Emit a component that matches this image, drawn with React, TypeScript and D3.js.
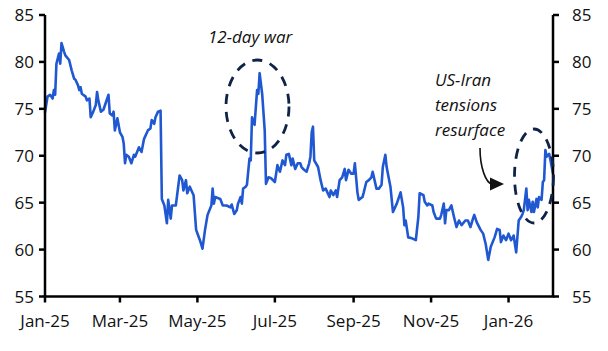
import React from "react";
import * as d3 from "d3";

const dates: string[] = [
  "2025-01-01","2025-01-03","2025-01-05","2025-01-07","2025-01-08","2025-01-09","2025-01-10","2025-01-12","2025-01-13","2025-01-14",
  "2025-01-16","2025-01-17","2025-01-20","2025-01-22","2025-01-24","2025-01-25","2025-01-27","2025-01-28","2025-01-29","2025-01-30",
  "2025-02-02","2025-02-03","2025-02-05","2025-02-06","2025-02-08","2025-02-10","2025-02-11","2025-02-12","2025-02-14","2025-02-16",
  "2025-02-18","2025-02-20","2025-02-21","2025-02-23","2025-02-24","2025-02-25","2025-02-27","2025-03-01","2025-03-03","2025-03-04",
  "2025-03-05","2025-03-06","2025-03-08","2025-03-10","2025-03-12","2025-03-13","2025-03-16","2025-03-18","2025-03-20","2025-03-23",
  "2025-03-25","2025-03-26","2025-03-28","2025-03-29","2025-03-31","2025-04-02","2025-04-03","2025-04-05","2025-04-07","2025-04-08",
  "2025-04-10","2025-04-11","2025-04-14","2025-04-17","2025-04-19","2025-04-20","2025-04-22","2025-04-23","2025-04-25","2025-04-28",
  "2025-04-30","2025-05-03","2025-05-05","2025-05-07","2025-05-09","2025-05-12","2025-05-13","2025-05-14","2025-05-15","2025-05-19",
  "2025-05-21","2025-05-24","2025-05-27","2025-05-28","2025-05-30","2025-06-01","2025-06-02","2025-06-04","2025-06-05","2025-06-06",
  "2025-06-08","2025-06-09","2025-06-11","2025-06-12","2025-06-13","2025-06-14","2025-06-15","2025-06-17","2025-06-18","2025-06-19",
  "2025-06-21","2025-06-23","2025-06-24","2025-06-26","2025-06-28","2025-07-01","2025-07-03","2025-07-04","2025-07-05","2025-07-07",
  "2025-07-09","2025-07-10","2025-07-12","2025-07-14","2025-07-15","2025-07-17","2025-07-19","2025-07-21","2025-07-22","2025-07-24",
  "2025-07-26","2025-07-28","2025-07-29","2025-07-30","2025-07-31","2025-08-01","2025-08-04","2025-08-06","2025-08-08","2025-08-10",
  "2025-08-13","2025-08-14","2025-08-16","2025-08-18","2025-08-19","2025-08-21","2025-08-23","2025-08-25","2025-08-26","2025-08-28",
  "2025-08-30","2025-09-01","2025-09-02","2025-09-04","2025-09-05","2025-09-08","2025-09-09","2025-09-11","2025-09-13","2025-09-15",
  "2025-09-16","2025-09-19","2025-09-21","2025-09-23","2025-09-24","2025-09-26","2025-09-27","2025-09-30","2025-10-02","2025-10-05",
  "2025-10-08","2025-10-10","2025-10-11","2025-10-12","2025-10-14","2025-10-17","2025-10-20","2025-10-22","2025-10-23","2025-10-26",
  "2025-10-27","2025-10-29","2025-10-30","2025-11-02","2025-11-03","2025-11-05","2025-11-08","2025-11-09","2025-11-11","2025-11-12",
  "2025-11-13","2025-11-15","2025-11-17","2025-11-19","2025-11-21","2025-11-23","2025-11-25","2025-11-28","2025-11-30","2025-12-02",
  "2025-12-04","2025-12-05","2025-12-07","2025-12-10","2025-12-12","2025-12-14","2025-12-16","2025-12-18","2025-12-21","2025-12-23",
  "2025-12-25","2025-12-26","2025-12-28","2025-12-30","2026-01-01","2026-01-03","2026-01-05","2026-01-07","2026-01-09","2026-01-11",
  "2026-01-12","2026-01-13","2026-01-15","2026-01-16","2026-01-17","2026-01-19","2026-01-20","2026-01-21","2026-01-23","2026-01-24",
  "2026-01-25","2026-01-27","2026-01-28","2026-01-29","2026-01-30","2026-01-31","2026-02-02","2026-02-05",
];

const prices: number[] = [
  74.6,76.3,76.5,76.1,77.0,76.5,79.8,80.9,79.8,82.0,
  81.1,80.7,80.2,79.1,78.2,78.1,77.5,77.0,77.3,76.6,
  76.3,75.9,76.1,74.1,74.7,75.4,76.8,75.9,74.7,74.9,
  75.7,76.5,74.5,74.3,74.7,72.7,74.0,72.5,72.0,71.3,
  69.2,70.1,69.9,69.2,70.1,69.9,70.9,70.4,71.8,72.7,
  72.9,73.8,73.4,74.1,74.7,74.8,65.4,64.7,62.8,65.3,
  63.3,64.7,64.7,67.9,67.4,66.3,67.4,66.0,66.7,65.8,
  62.1,61.0,60.1,62.1,63.7,64.7,66.5,64.9,65.6,65.4,
  64.7,64.7,64.5,64.8,63.8,64.2,64.9,65.6,64.9,66.5,
  66.7,66.9,69.7,69.5,74.1,73.6,73.3,77.0,76.6,78.8,
  76.6,72.7,67.0,67.7,67.6,67.2,69.0,68.6,68.3,69.5,
  69.0,70.1,70.2,69.0,69.7,68.6,69.2,69.2,68.8,68.5,
  68.3,69.2,69.9,72.5,73.1,69.5,68.8,67.4,66.3,66.5,
  65.6,66.3,65.8,66.3,65.6,67.4,67.7,68.6,67.4,68.5,
  68.1,68.1,69.2,66.1,65.3,65.6,66.1,67.2,67.4,67.7,
  68.3,66.5,66.5,66.9,68.8,70.1,68.8,66.7,64.0,64.9,
  66.1,64.5,62.6,63.1,61.3,61.2,61.0,63.5,66.0,65.8,
  65.1,64.7,64.9,64.7,64.0,63.3,63.3,63.7,64.9,62.8,
  64.2,64.2,64.7,63.5,62.4,63.1,62.6,63.1,63.1,62.4,
  63.3,63.7,62.9,62.1,61.7,60.6,58.9,60.3,61.3,62.2,
  62.1,60.8,61.5,61.0,61.7,61.0,61.5,59.7,63.1,63.5,
  63.8,64.2,66.5,64.2,65.3,64.0,65.1,64.0,65.4,64.5,
  65.6,65.3,67.2,67.4,70.6,69.9,70.2,68.1,
];

const xTickDates: string[] = ["2025-01-01","2025-03-01","2025-05-01","2025-07-01","2025-09-01","2025-11-01","2026-01-01"];
const yTicks: number[] = [55, 60, 65, 70, 75, 80, 85];
const annotation1: string[] = ["12-day war"];
const annotation2: string[] = ["US-Iran", "tensions", "resurface"];

const W = 608, H = 351;
const left = 45, right = 553, top = 15, bottom = 296.5;
const parse = d3.timeParse("%Y-%m-%d");
const fmt = d3.timeFormat("%b-%y");
const font = "'Open Sans', sans-serif";

export default function App() {
  const x = d3.scaleTime().domain([parse("2025-01-01")!, parse("2026-02-05")!]).range([left, right]);
  const y = d3.scaleLinear().domain([55, 85]).range([bottom, top]);
  const pts = dates.map((d, i) => [parse(d)!, prices[i]] as [Date, number]);
  const line = d3.line<[Date, number]>().x(d => x(d[0])).y(d => y(d[1]));
  const navy = "#0f2348";
  return (
    <svg width={W} height={H} style={{ position: "absolute", left: 0, top: 0, background: "#fff" }}>
      <defs>
        <marker id="arr" viewBox="0 0 10 10" refX="9" refY="5" markerWidth="5" markerHeight="5" orient="auto" markerUnits="strokeWidth">
          <path d="M0,0 L10,5 L0,10 z" fill="#111" />
        </marker>
      </defs>
      <path d={line(pts) || ""} fill="none" stroke="#2058d2" strokeWidth={2.6} strokeLinejoin="round" />
      {/* axes */}
      <line x1={left} x2={left} y1={top} y2={bottom} stroke="#000" strokeWidth={2.5} />
      <line x1={right} x2={right} y1={top} y2={bottom} stroke="#000" strokeWidth={2.5} />
      <line x1={left - 1.25} x2={right + 1.25} y1={bottom} y2={bottom} stroke="#000" strokeWidth={2.5} />
      {yTicks.map(t => (
        <g key={t}>
          <line x1={left - 6} x2={left} y1={y(t)} y2={y(t)} stroke="#000" strokeWidth={2.5} />
          <line x1={right} x2={right + 6} y1={y(t)} y2={y(t)} stroke="#000" strokeWidth={2.5} />
          <text x={34} y={y(t)} dy="0.36em" textAnchor="end" fontFamily={font} fontSize={17} fill="#111">{t}</text>
          <text x={572} y={y(t)} dy="0.36em" textAnchor="start" fontFamily={font} fontSize={17} fill="#111">{t}</text>
        </g>
      ))}
      {xTickDates.map(d => {
        const dt = parse(d)!;
        return (
          <g key={d}>
            <line x1={x(dt)} x2={x(dt)} y1={bottom} y2={bottom + 6} stroke="#000" strokeWidth={2.5} />
            <text x={x(dt)} y={327} textAnchor="middle" fontFamily={font} fontSize={17} fill="#111">{fmt(dt)}</text>
          </g>
        );
      })}
      {/* annotations */}
      <ellipse cx={257.5} cy={106.5} rx={31.5} ry={46.5} fill="none" stroke={navy} strokeWidth={2.8} strokeDasharray="10 8" />
      <ellipse cx={534} cy={176} rx={19.5} ry={47} fill="none" stroke={navy} strokeWidth={2.8} strokeDasharray="10 8" />
      <text x={208} y={43} fontFamily={font} fontSize={17} fontStyle="italic" fill="#111">{annotation1[0]}</text>
      {annotation2.map((s, i) => (
        <text key={s} x={435} y={86 + i * 25} fontFamily={font} fontSize={17} fontStyle="italic" fill="#111">{s}</text>
      ))}
      <path d="M480,148 C480,168 486,183 492,184" fill="none" stroke="#111" strokeWidth={1.6} />
      <path d="M490,177.5 L504,184 L490,190.5 z" fill="#111" />
    </svg>
  );
}
